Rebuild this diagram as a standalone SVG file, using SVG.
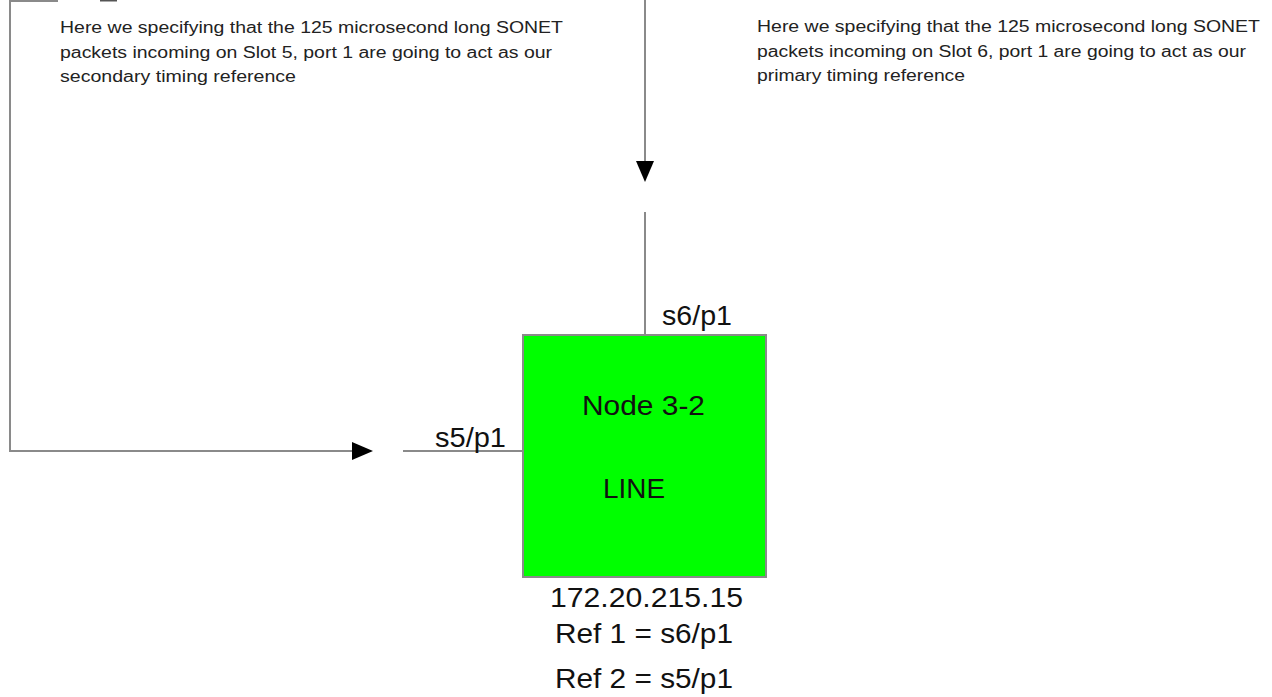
<svg xmlns="http://www.w3.org/2000/svg" width="1272" height="697" viewBox="0 0 1272 697">
<style>
.ln{stroke:#8a8a8a;stroke-width:2;fill:none}
.ah{fill:#000}
.sm{font-family:"Liberation Sans",Arial,sans-serif;font-size:16px;fill:#222}
.bg{font-family:"Liberation Sans",Arial,sans-serif;font-size:28px;fill:#111}
</style>
<rect width="1272" height="697" fill="#fff"/>
<g id="connectors">
<polyline class="ln" points="58,1 10,1 10,451 354,451"/>
<line x1="100" y1="0.5" x2="117" y2="0.5" stroke="#555" stroke-width="2"/>
<polygon class="ah" points="352,442 373,451 352,460"/>
<line class="ln" x1="403" y1="451" x2="523" y2="451"/>
<line class="ln" x1="645" y1="0" x2="645" y2="163"/>
<polygon class="ah" points="636,161 654,161 645,182"/>
<line class="ln" x1="645" y1="212" x2="645" y2="335"/>
</g>
<g id="note-left">
<text class="sm" x="60" y="33" textLength="503" lengthAdjust="spacingAndGlyphs">Here we specifying that the 125 microsecond long SONET</text>
<text class="sm" x="60" y="58" textLength="492" lengthAdjust="spacingAndGlyphs">packets incoming on Slot 5, port 1 are going to act as our</text>
<text class="sm" x="60" y="82" textLength="236" lengthAdjust="spacingAndGlyphs">secondary timing reference</text>
</g>
<g id="note-right">
<text class="sm" x="757" y="32" textLength="503" lengthAdjust="spacingAndGlyphs">Here we specifying that the 125 microsecond long SONET</text>
<text class="sm" x="757" y="57" textLength="489" lengthAdjust="spacingAndGlyphs">packets incoming on Slot 6, port 1 are going to act as our</text>
<text class="sm" x="757" y="81" textLength="208" lengthAdjust="spacingAndGlyphs">primary timing reference</text>
</g>
<g id="node-3-2">
<rect x="523" y="335" width="243" height="242" fill="#00ff00" stroke="#8a8a8a" stroke-width="2"/>
<text class="bg" x="582" y="415" textLength="123" lengthAdjust="spacingAndGlyphs">Node 3-2</text>
<text class="bg" x="603" y="498" textLength="62" lengthAdjust="spacingAndGlyphs">LINE</text>
</g>
<g id="labels">
<text class="bg" x="662" y="325" textLength="70" lengthAdjust="spacingAndGlyphs">s6/p1</text>
<text class="bg" x="435" y="447" textLength="71" lengthAdjust="spacingAndGlyphs">s5/p1</text>
<text class="bg" x="550" y="607" textLength="193" lengthAdjust="spacingAndGlyphs">172.20.215.15</text>
<text class="bg" x="555" y="643" textLength="178" lengthAdjust="spacingAndGlyphs">Ref 1 = s6/p1</text>
<text class="bg" x="555" y="688" textLength="178" lengthAdjust="spacingAndGlyphs">Ref 2 = s5/p1</text>
</g>
</svg>
